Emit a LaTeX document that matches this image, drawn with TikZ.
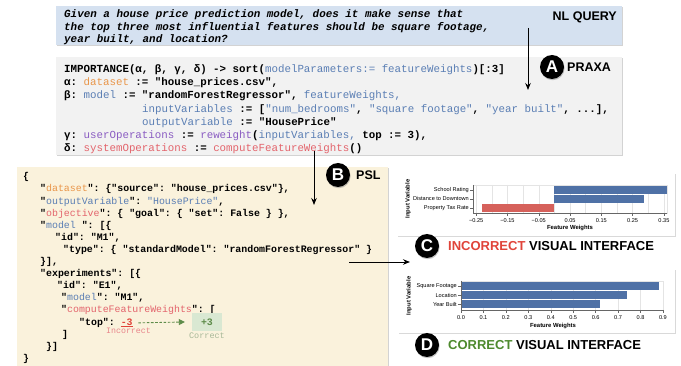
\documentclass[tikz,border=0pt]{standalone}
\usepackage{fontspec}
\setmainfont{Liberation Sans}
\setsansfont{Liberation Sans}
\setmonofont{Liberation Mono}
\usetikzlibrary{arrows.meta,shadows}
\definecolor{nlfill}{HTML}{D5E1F0}
\definecolor{pxfill}{HTML}{F2F2F2}
\definecolor{pslfill}{HTML}{FAF2DC}
\definecolor{corange}{HTML}{E9964A}
\definecolor{cblue}{HTML}{5A7EB4}
\definecolor{cpurple}{HTML}{8A5CC2}
\definecolor{cred}{HTML}{E3646C}
\definecolor{barblue}{HTML}{4F71A6}
\definecolor{barred}{HTML}{D6615B}
\definecolor{gridc}{HTML}{E4E4E4}
\definecolor{wrongred}{HTML}{E0443A}
\definecolor{rightgreen}{HTML}{4E8A2E}
\definecolor{okfill}{HTML}{D9E8D2}
\definecolor{oktext}{HTML}{5E8C4A}
\definecolor{okgray}{HTML}{A7B898}
\definecolor{badtext}{HTML}{E8858A}
\newcommand\cOr[1]{{\mdseries\color{corange}#1}}
\newcommand\cBl[1]{{\mdseries\color{cblue}#1}}
\newcommand\cPu[1]{{\mdseries\color{cpurple}#1}}
\newcommand\cRe[1]{{\mdseries\color{cred}#1}}
\begin{document}
\begin{tikzpicture}[x=1pt,y=-1pt,
  box/.style={draw=none, inner sep=0pt, anchor=north west,
    drop shadow={opacity=0.35, shadow xshift=0.8pt, shadow yshift=-1.2pt}},
  nlq/.style={anchor=base west, inner sep=0pt, font=\ttfamily\bfseries\itshape\fontsize{10.9}{13}\selectfont},
  praxa/.style={anchor=base west, inner sep=0pt, font=\ttfamily\bfseries\fontsize{10.8}{13}\selectfont},
  psl/.style={anchor=base west, inner sep=0pt, font=\ttfamily\bfseries\fontsize{9.9}{12}\selectfont},
  lbl/.style={font=\sffamily\bfseries\fontsize{12.5}{13}\selectfont, inner sep=0pt},
  circ/.style={circle, fill=black, text=white, inner sep=0pt, minimum size=24pt,
    font=\sffamily\bfseries\fontsize{17}{17}\selectfont,
    drop shadow={opacity=0.45, shadow xshift=0.6pt, shadow yshift=-1.2pt}},
  bigl/.style={font=\sffamily\bfseries\fontsize{13}{14}\selectfont, inner sep=0pt, anchor=west},
  arr/.style={-{Stealth[length=7pt,width=5.5pt]}, line width=0.9pt},
  tiny/.style={font=\sffamily\fontsize{5.6}{6}\selectfont, inner sep=0pt},
  tinyb/.style={font=\sffamily\bfseries\fontsize{5.9}{6}\selectfont, inner sep=0pt},
  chartbox/.style={draw=none, fill=white, inner sep=0pt, anchor=north west,
    drop shadow={opacity=0.3, shadow xshift=0.8pt, shadow yshift=-1.2pt}}
]
\useasboundingbox (0,0) rectangle (681,366);

% ---------- NL QUERY ----------
\node[box, fill=nlfill, minimum width=566pt, minimum height=39pt] (nlbox) at (56,6) {};
\node[nlq] (nl1) at (64,17.5) {Given a house price prediction model, does it make sense that};
\node[nlq] (nl2) at (64,30.2) {the top three most influential features should be square footage,};
\node[nlq] (nl3) at (64,42.8) {year built, and location?};
\node[lbl, anchor=east] (nllbl) at (617,17) {NL QUERY};

% ---------- PRAXA ----------
\node[box, fill=pxfill, minimum width=566pt, minimum height=98pt] (pxbox) at (56,57) {};
\node[praxa] (p1) at (64,72.5) {IMPORTANCE(α, β, γ, δ) -> sort(\cBl{modelParameters:= featureWeights})[:3]};
\node[praxa] (p2) at (64,85.7) {α: \cOr{dataset} := "house\_prices.csv",};
\node[praxa] (p3) at (64,98.9) {β: \cBl{model} := "randomForestRegressor", \cBl{featureWeights,}};
\node[praxa] (p4) at (142,112.1) {\cBl{inputVariables} := [\cBl{"num\_bedrooms"}, \cBl{"square footage"}, \cBl{"year built"}, ...],};
\node[praxa] (p5) at (142,125.3) {\cBl{outputVariable} := "HousePrice"};
\node[praxa] (p6) at (64,138.5) {γ: \cPu{userOperations} := \cPu{reweight}(\cBl{inputVariables,} top := 3),};
\node[praxa] (p7) at (64,151.7) {δ: \cRe{systemOperations} := \cRe{computeFeatureWeights}()};
\node[circ] (cA) at (552,67) {A};
\node[lbl, anchor=west] (pxlbl) at (567,67) {PRAXA};

% ---------- PSL ----------
\node[box, fill=pslfill, minimum width=371pt, minimum height=202pt] (pslbox) at (17,167) {};
\node[psl] (s0) at (23,179.9) {\{};
\node[psl] (s1) at (40,192.0) {"\cOr{dataset}": \{"source": "house\_prices.csv"\},};
\node[psl] (s2) at (40,204.1) {"\cBl{outputVariable}": \cBl{"HousePrice"},};
\node[psl] (s3) at (40,216.2) {"\cRe{objective}": \{ "goal": \{ "set": False \} \},};
\node[psl] (s4) at (40,228.3) {"\cBl{model }": [\{};
\node[psl] (s5) at (55,240.4) {"id": "M1",};
\node[psl] (s6) at (63,252.5) {"type": \{ "standardModel": "randomForestRegressor" \}};
\node[psl] (s7) at (40,264.6) {\}],};
\node[psl] (s8) at (40,276.7) {"experiments": [\{};
\node[psl] (s9) at (57,288.8) {"id": "E1",};
\node[psl] (s10) at (61,300.9) {"\cBl{model}": "M1",};
\node[psl] (s11) at (61,313.0) {"\cRe{computeFeatureWeights}": [};
\node[psl] (s12) at (79,325.1) {"top":};
\node[psl, text=wrongred] (m3) at (120.6,325.1) {\underline{-3}};
\node[psl] (s13) at (62,337.2) {]};
\node[psl] (s14) at (46,349.3) {\}]};
\node[psl] (s15) at (23,361.4) {\}};
\node[font=\ttfamily\fontsize{8.3}{9}\selectfont, text=badtext, inner sep=0pt] (inc) at (128.5,331) {Incorrect};
\node[fill=okfill, minimum width=30pt, minimum height=18pt, inner sep=0pt,
  font=\ttfamily\bfseries\fontsize{9.9}{12}\selectfont, text=oktext] (p3box) at (207,322) {+3};
\node[font=\ttfamily\fontsize{8.5}{9}\selectfont, text=okgray, inner sep=0pt] (cor) at (207,336) {Correct};
\draw[oktext, line width=0.9pt, dash pattern=on 2.6pt off 1.6pt, -{Triangle[length=6pt,width=6pt]}]
  ([xshift=5.5pt]m3.east) -- ([xshift=-7pt]p3box.west);
\node[circ] (cB) at (338,175) {B};
\node[lbl, anchor=west] (psllbl) at (356,175) {PSL};

% ---------- Arrows ----------
\coordinate (a1s) at (528,28);
\coordinate (a1e) at (528,90);
\draw[arr] (a1s) -- (a1e);
\coordinate (a2s) at (314,151);
\coordinate (a2e) at (314,205);
\draw[arr] (a2s) -- (a2e);
\coordinate (a3s) at (349,262);
\coordinate (a3e) at (410,262);
\draw[arr] (a3s) -- (a3e);

% ---------- Chart C ----------
\node[chartbox, minimum width=278pt, minimum height=63pt] (chC) at (397,173) {};
% mapping: x = 554.4 + 312.9*v ; frame -0.26..0.36
\foreach \v in {-0.25,-0.2,-0.15,-0.1,-0.05,0,0.05,0.1,0.15,0.2,0.25,0.3,0.35}
  \draw[gridc, line width=0.4pt] ({554.4+312.9*\v},185) -- ({554.4+312.9*\v},213);
\draw[gridc, line width=0.4pt] (473,185) rectangle (667,213);
\fill[barblue] (554.4,186) rectangle (667,194);
\fill[barblue] (554.4,195) rectangle (644,203);
\fill[barred] (482.4,204) rectangle (554.4,212);
\draw[black!60, line width=0.4pt] (473,213) -- (667,213);
\draw[black!60, line width=0.4pt] (473,185) -- (473,213);
\foreach \v/\t in {-0.25/−0.25,-0.15/−0.15,-0.05/−0.05,0.05/0.05,0.15/0.15,0.25/0.25,0.35/0.35}{
  \draw[black!60, line width=0.4pt] ({554.4+312.9*\v},213) -- ({554.4+312.9*\v},216);
  \node[tiny] at ({554.4+312.9*\v},221) {\t};
}
\foreach \yy/\t in {190/School Rating,199/Distance to Downtown,208/Property Tax Rate}{
  \draw[black!60, line width=0.4pt] (470,\yy) -- (473,\yy);
  \node[tiny, anchor=east] at (469,\yy) {\t};
}
\node[tinyb] (cxl) at (570,228) {Feature Weights};
\node[tinyb, rotate=90] (cyl) at (408,199) {Input Variable};
\node[circ] (cC) at (427,246) {C};
\node[bigl] (cCl) at (448,246) {\textcolor{wrongred}{INCORRECT} VISUAL INTERFACE};

% ---------- Chart D ----------
\node[chartbox, minimum width=277pt, minimum height=64pt] (chD) at (398,269) {};
% mapping: x = 461 + 224.4*v
\foreach \v in {0,0.1,...,0.9}
  \draw[gridc, line width=0.4pt] ({461+224.4*\v},281) -- ({461+224.4*\v},310);
\draw[gridc, line width=0.4pt] (461,281) rectangle (663,310);
\fill[barblue] (461,282) rectangle (658.5,290);
\fill[barblue] (461,291) rectangle (627,299);
\fill[barblue] (461,300) rectangle (600,308);
\draw[black!60, line width=0.4pt] (461,310) -- (663,310);
\draw[black!60, line width=0.4pt] (461,281) -- (461,310);
\foreach \v/\t in {0/0.0,0.1/0.1,0.2/0.2,0.3/0.3,0.4/0.4,0.5/0.5,0.6/0.6,0.7/0.7,0.8/0.8,0.9/0.9}{
  \draw[black!60, line width=0.4pt] ({461+224.4*\v},310) -- ({461+224.4*\v},313);
  \node[tiny] at ({461+224.4*\v},318) {\t};
}
\foreach \yy/\t in {286/Square Footage,295/Location,304/Year Built}{
  \draw[black!60, line width=0.4pt] (458,\yy) -- (461,\yy);
  \node[tiny, anchor=east] at (457,\yy) {\t};
}
\node[tinyb] (dxl) at (553,326) {Feature Weights};
\node[tinyb, rotate=90] (dyl) at (409,296) {Input Variable};
\node[circ] (cD) at (427,345) {D};
\node[bigl] (cDl) at (448,345) {\textcolor{rightgreen}{CORRECT} VISUAL INTERFACE};
\end{tikzpicture}
\end{document}
